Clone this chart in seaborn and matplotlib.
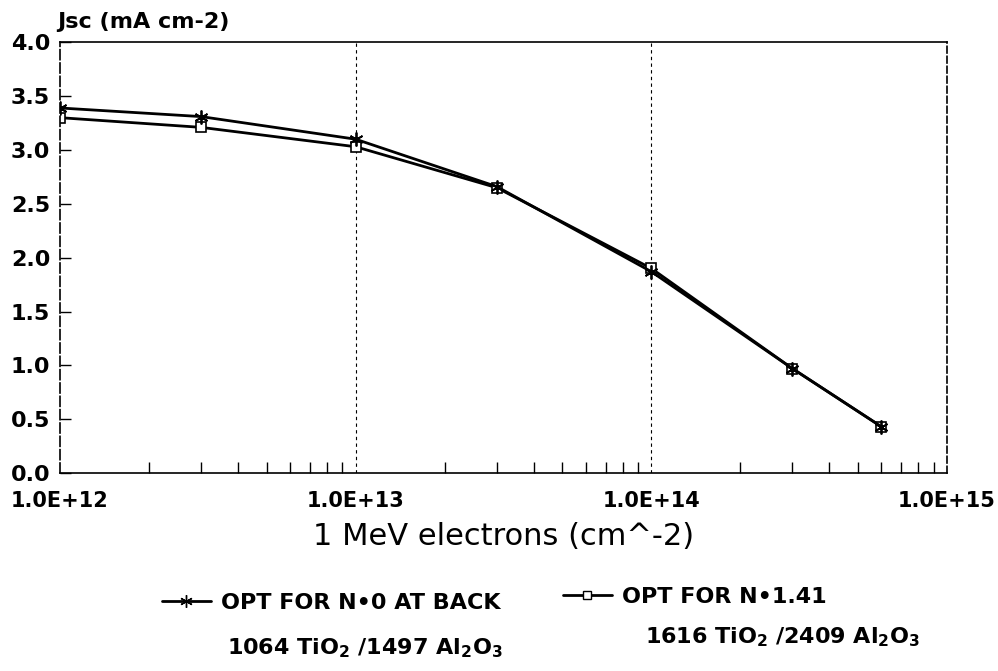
import numpy as np
import pandas as pd
import matplotlib
matplotlib.use("Agg")
import matplotlib.pyplot as plt
from matplotlib.lines import Line2D
from matplotlib.ticker import LogLocator, FixedLocator, NullFormatter
import seaborn as sns

# Fluence of 1 MeV electrons (cm^-2)
fluence = [1e12, 3e12, 1e13, 3e13, 1e14, 3e14, 6e14]
# Short-circuit current density (mA cm^-2)
jsc_n0 = [3.39, 3.31, 3.10, 2.66, 1.87, 0.97, 0.43]
jsc_n141 = [3.30, 3.21, 3.03, 2.65, 1.90, 0.97, 0.43]

series_names = ["OPT FOR N=0 AT BACK", "OPT FOR N=1.41"]
legend_labels = ["OPT FOR N\u20220 AT BACK", "OPT FOR N\u20221.41"]
coating_labels = [r"1064 TiO$_2$ /1497 Al$_2$O$_3$", r"1616 TiO$_2$ /2409 Al$_2$O$_3$"]
yticks = [0.0, 0.5, 1.0, 1.5, 2.0, 2.5, 3.0, 3.5, 4.0]
xticks = [1e12, 1e13, 1e14, 1e15]
xtick_labels = ["1.0E+12", "1.0E+13", "1.0E+14", "1.0E+15"]

df_n0 = pd.DataFrame({"fluence": fluence, "jsc": jsc_n0})
df_n141 = pd.DataFrame({"fluence": fluence, "jsc": jsc_n141})

sns.set_theme(style="white")
plt.rcParams["font.family"] = ["DejaVu Sans"]
plt.rcParams["text.color"] = "black"
plt.rcParams["axes.labelcolor"] = "black"
plt.rcParams["xtick.color"] = "black"
plt.rcParams["ytick.color"] = "black"
plt.rcParams["mathtext.fontset"] = "custom"
plt.rcParams["mathtext.rm"] = "DejaVu Sans:bold"
plt.rcParams["mathtext.it"] = "DejaVu Sans:bold"
plt.rcParams["mathtext.bf"] = "DejaVu Sans:bold"

fig = plt.figure(figsize=(9.98, 6.71), dpi=100)
ax = fig.add_axes([0.060, 0.295, 0.889, 0.642])

asterisk = (6, 2, 0)
sns.lineplot(data=df_n141, x="fluence", y="jsc", marker="s", color="black",
             linewidth=2.0, markersize=7.5, markerfacecolor="white",
             markeredgecolor="black", markeredgewidth=1.2, ax=ax, zorder=2)
sns.lineplot(data=df_n0, x="fluence", y="jsc", marker=asterisk, color="black",
             linewidth=2.0, markersize=10, markeredgecolor="black",
             markeredgewidth=1.3, ax=ax, zorder=3)

ax.set_xscale("log")
ax.set_xlim(1e12, 1e15)
ax.set_ylim(0, 4.0)

ax.xaxis.set_major_locator(FixedLocator(xticks))
ax.set_xticks(xticks)
ax.set_xticklabels(xtick_labels, fontsize=15, fontweight="bold", color="black")
ax.xaxis.set_minor_locator(LogLocator(base=10, subs=np.arange(2, 10)))
ax.xaxis.set_minor_formatter(NullFormatter())
ax.tick_params(axis="x", which="major", direction="in", length=0, pad=13)
ax.tick_params(axis="x", which="minor", direction="in", length=8, width=1, color="black", bottom=True)

ax.set_yticks(yticks)
ax.set_yticklabels([f"{v:.1f}" for v in yticks], fontsize=16, fontweight="bold", color="black")
ax.tick_params(axis="y", which="major", direction="in", length=8, width=1, color="black", left=True, pad=7)

# dotted vertical grid at each decade
for xv in xticks[1:-1]:
    ax.axvline(xv, color="black", linestyle=(0, (3, 3)), linewidth=0.8, zorder=0)

for side in ["left", "bottom", "top", "right"]:
    ax.spines[side].set_color("black")
    ax.spines[side].set_linewidth(1.2)
ax.spines["right"].set_linestyle((0, (4, 2)))
ax.spines["left"].set_linestyle((0, (6, 2)))

ax.set_xlabel("1 MeV electrons (cm^-2)", fontsize=22, labelpad=8, color="black")
ax.set_ylabel("")
fig.text(0.057, 0.967, "Jsc (mA cm-2)", fontsize=16, fontweight="bold", ha="left", va="center",
         color="black")

# legend entries drawn below the axes
handles = [
    Line2D([], [], color="black", linewidth=2.0, marker=asterisk, markersize=9,
           markeredgewidth=1.0),
    Line2D([], [], color="black", linewidth=2.0, marker="s", markersize=6,
           markerfacecolor="white", markeredgecolor="black", markeredgewidth=1.0),
]
anchors = [(0.162, 0.101), (0.564, 0.110)]
for h, lab, anc in zip(handles, legend_labels, anchors):
    leg = fig.legend([h], [lab], loc="center left", bbox_to_anchor=anc, frameon=False,
                     fontsize=16, handlelength=2.2, handletextpad=0.45,
                     borderpad=0, borderaxespad=0)
    for t in leg.get_texts():
        t.set_fontweight("bold")
        t.set_color("black")

fig.text(0.366, 0.034, coating_labels[0], fontsize=16, fontweight="bold", ha="center", va="center",
         color="black")
fig.text(0.784, 0.050, coating_labels[1], fontsize=16, fontweight="bold", ha="center", va="center",
         color="black")

fig.savefig("out.png", dpi=100)
